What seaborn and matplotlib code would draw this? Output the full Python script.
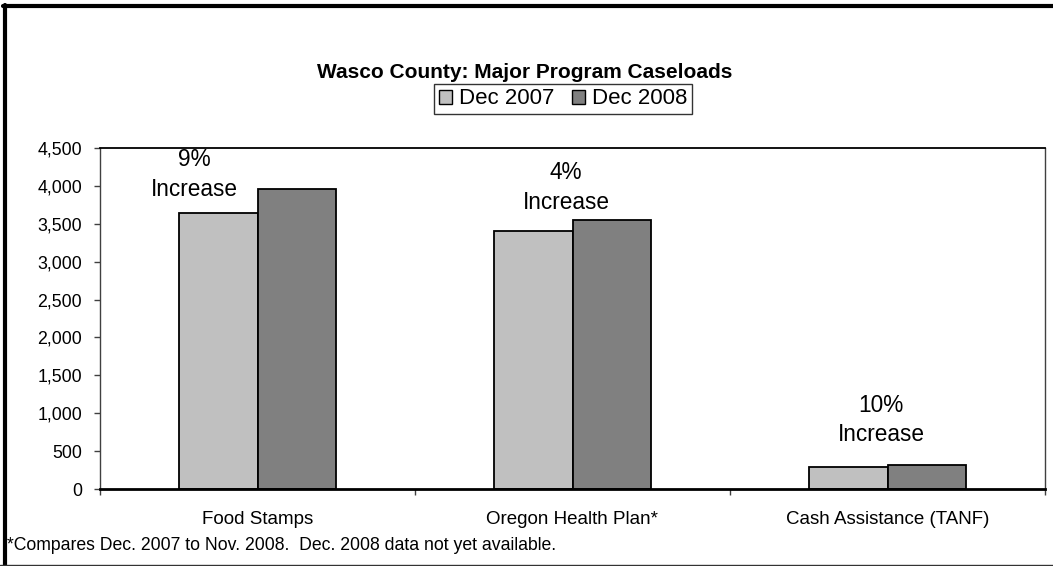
import matplotlib
matplotlib.use("Agg")
import matplotlib.pyplot as plt
import matplotlib.ticker as mticker
from matplotlib.patches import Patch
from matplotlib.lines import Line2D
import seaborn as sns
import pandas as pd

# Caseload data
programs = ["Food Stamps", "Oregon Health Plan*", "Cash Assistance (TANF)"]
dec_2007 = [3640, 3410, 290]
dec_2008 = [3965, 3550, 320]
series_names = ["Dec 2007", "Dec 2008"]
bar_colors = ["#C0C0C0", "#808080"]

# Placement of the "% Increase" callouts (category units, caseload units)
label_x = [-0.2, 0.98, 1.98]
label_y = [4150, 3980, 915]

title_text = "Wasco County: Major Program Caseloads"
footnote_text = "*Compares Dec. 2007 to Nov. 2008.  Dec. 2008 data not yet available."

df = pd.DataFrame({
    "Program": programs * 2,
    "Period": [series_names[0]] * 3 + [series_names[1]] * 3,
    "Cases": dec_2007 + dec_2008,
})

sns.set_style("white")
plt.rcParams["font.family"] = ["Liberation Sans", "DejaVu Sans"]
plt.rcParams["text.color"] = "black"
plt.rcParams["xtick.labelcolor"] = "black"
plt.rcParams["ytick.labelcolor"] = "black"

fig = plt.figure(figsize=(10.53, 5.66), dpi=100)
ax = fig.add_axes([100 / 1053, 1 - 489 / 566, (1045 - 100) / 1053, (489 - 148) / 566])

sns.barplot(data=df, x="Program", y="Cases", hue="Period", order=programs,
            hue_order=series_names, palette=bar_colors, width=0.5,
            edgecolor="black", linewidth=1.3, saturation=1, ax=ax, legend=False)

ax.set_xlim(-0.5, 2.5)
ax.set_ylim(0, 4500)
ax.yaxis.set_major_locator(mticker.MultipleLocator(500))
ax.yaxis.set_major_formatter(mticker.FuncFormatter(lambda v, p: f"{int(v):,}"))
ax.set_xlabel("")
ax.set_ylabel("")

ax.tick_params(axis="y", which="major", direction="out", length=4, width=1,
               color="#404040", labelsize=12.8, pad=9, left=True, labelcolor="black")
ax.tick_params(axis="x", which="major", length=0, labelsize=13.5, pad=16, labelcolor="black")
ax.set_xticks([-0.5, 0.5, 1.5, 2.5], minor=True)
ax.tick_params(axis="x", which="minor", direction="out", length=4, width=1,
               color="#404040", bottom=True)

for side in ["left", "right"]:
    ax.spines[side].set_color("#404040")
    ax.spines[side].set_linewidth(1)
ax.spines["top"].set_color("black")
ax.spines["top"].set_linewidth(1.3)
ax.spines["bottom"].set_color("black")
ax.spines["bottom"].set_linewidth(2)
for s in ax.spines.values():
    s.set_visible(True)

# Percentage-increase callouts computed from the data
for i in range(len(programs)):
    pct = round((dec_2008[i] - dec_2007[i]) / dec_2007[i] * 100)
    ax.text(label_x[i], label_y[i], f"{pct}%\nIncrease", ha="center", va="center",
            fontsize=16.3, linespacing=1.35, multialignment="center")

fig.text(525 / 1053, 1 - 73 / 566, title_text, ha="center", va="center",
         fontsize=15, fontweight="bold")

handles = [Patch(facecolor=c, edgecolor="black", linewidth=1) for c in bar_colors]
leg = fig.legend(handles, series_names, loc="center", bbox_to_anchor=(563 / 1053, 1 - 99 / 566),
                 ncol=2, fontsize=16, frameon=True, fancybox=False, shadow=False,
                 handlelength=0.6, handleheight=0.6, handletextpad=0.3,
                 columnspacing=0.8, borderpad=0.22, borderaxespad=0)
leg.get_frame().set_edgecolor("black")
leg.get_frame().set_linewidth(1)

fig.text(7 / 1053, 1 - 546 / 566, footnote_text, ha="left", va="center", fontsize=12.7)

# Chart-area border
fig.add_artist(Line2D([4.5 / 1053, 4.5 / 1053], [0, 1 - 5 / 566], transform=fig.transFigure,
                      color="black", linewidth=3))
fig.add_artist(Line2D([3 / 1053, 1], [1 - 5.5 / 566, 1 - 5.5 / 566], transform=fig.transFigure,
                      color="black", linewidth=3))
fig.add_artist(Line2D([0, 1], [1 - 565 / 566, 1 - 565 / 566], transform=fig.transFigure,
                      color="#333333", linewidth=1))

fig.savefig("out.png", dpi=100)
